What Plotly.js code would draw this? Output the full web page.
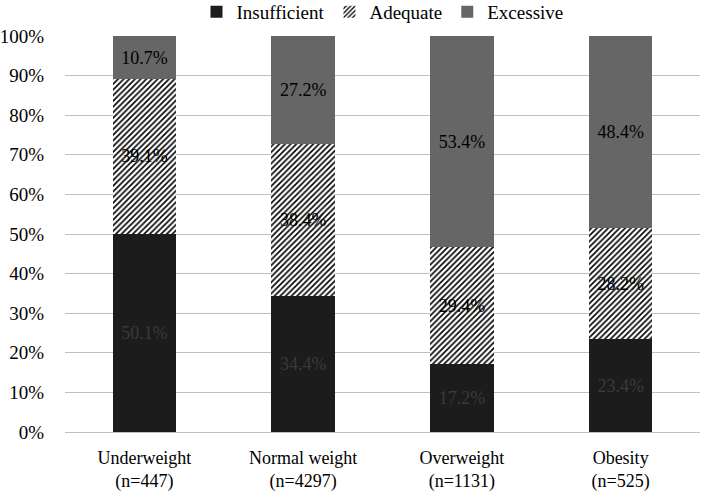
<!DOCTYPE html>
<html><head><meta charset="utf-8">
<script src="https://cdn.plot.ly/plotly-3.0.1.min.js"></script>
<style>html,body{margin:0;padding:0;background:#fff}#c{width:708px;height:496px}</style>
</head><body><div id="c"></div>
<script>
const categories = ["Underweight<br>(n=447)", "Normal weight<br>(n=4297)", "Overweight<br>(n=1131)", "Obesity<br>(n=525)"];
const insufficient = [50.1, 34.4, 17.2, 23.4];
const adequate = [39.1, 38.4, 29.4, 28.2];
const excessive = [10.7, 27.2, 53.4, 48.4];
const tickVals = [0,10,20,30,40,50,60,70,80,90,100];
const tickText = tickVals.map(v => v + "%");

const fam = "Liberation Serif, DejaVu Serif, serif";
function tr(name, vals, marker, tcolor){
  return {type:"bar", name:name, x:categories, y:vals, marker:marker,
    text: vals.map(v => v.toFixed(1) + "%"), textposition:"inside", insidetextanchor:"middle",
    textfont:{family:fam, size:18, color:tcolor}, hoverinfo:"skip", constraintext:"none"};
}
const data = [
  tr("Insufficient", insufficient, {color:"#1c1c1c", line:{width:0}}, "#3a3a3a"),
  tr("Adequate", adequate, {color:"#ffffff", line:{width:0}, pattern:{shape:"/", fgcolor:"#000", bgcolor:"#fff", size:4, solidity:0.4}}, "#000"),
  tr("Excessive", excessive, {color:"#666666", line:{width:0}}, "#000")
];
const layout = {
  width:708, height:496, barmode:"stack", bargap:0.6,
  margin:{l:65, r:8, t:36, b:64},
  paper_bgcolor:"#fff", plot_bgcolor:"#fff", font:{family:fam, size:19, color:"#000"},
  showlegend:true,
  legend:{orientation:"h", x:0.5, xanchor:"center", xref:"paper", yref:"container", y:0.976, yanchor:"middle", font:{family:fam, size:19}, itemwidth:30, traceorder:"normal"},
  xaxis:{showgrid:false, showline:true, linecolor:"#bfbfbf", linewidth:1, tickfont:{family:fam, size:18}, ticks:"", ticklabelstandoff:9},
  yaxis:{range:[0,100], tickvals:tickVals, ticktext:tickText, showgrid:true, gridcolor:"#bfbfbf", gridwidth:1, zeroline:false, tickfont:{family:fam, size:19}, ticks:"", ticklabelstandoff:20, fixedrange:true}
};
Plotly.newPlot("c", data, layout, {displayModeBar:false, staticPlot:true});
</script></body></html>
